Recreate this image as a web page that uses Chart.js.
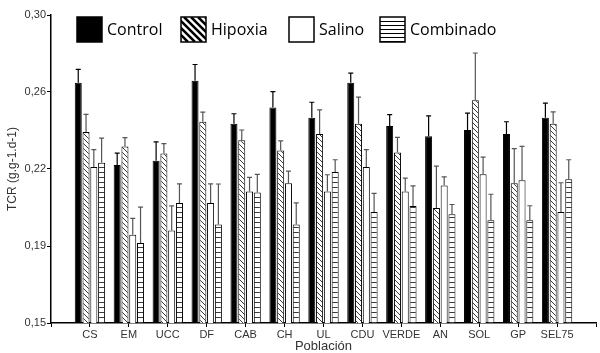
<!DOCTYPE html>
<html>
<head>
<meta charset="utf-8">
<script src="https://cdn.jsdelivr.net/npm/chart.js@4.4.1/dist/chart.umd.min.js"></script>
<style>
  html, body { margin: 0; padding: 0; background: #fff; }
  canvas { display: block; }
</style>
</head>
<body>
<canvas id="chart" width="600" height="353"></canvas>
<script>
const categories = ['CS', 'EM', 'UCC', 'DF', 'CAB', 'CH', 'UL', 'CDU', 'VERDE', 'AN', 'SOL', 'GP', 'SEL75'];
const seriesNames = ['Control', 'Hipoxia', 'Salino', 'Combinado'];

const control      = [0.267, 0.227, 0.229, 0.268, 0.247, 0.255, 0.250, 0.267, 0.246, 0.241, 0.244, 0.242, 0.250];
const controlErr   = [0.0065, 0.0057, 0.0092, 0.0079, 0.0049, 0.0077, 0.0075, 0.0047, 0.0055, 0.0099, 0.0082, 0.0060, 0.0071];
const hipoxia      = [0.243, 0.236, 0.2325, 0.248, 0.239, 0.234, 0.242, 0.247, 0.233, 0.206, 0.2585, 0.218, 0.247];
const hipoxiaErr   = [0.0086, 0.0043, 0.0049, 0.0047, 0.0050, 0.0047, 0.0118, 0.0130, 0.0074, 0.0204, 0.0230, 0.0169, 0.0058];
const salino       = [0.226, 0.193, 0.195, 0.2085, 0.214, 0.218, 0.214, 0.226, 0.214, 0.217, 0.2225, 0.2195, 0.204];
const salinoErr    = [0.0084, 0.0080, 0.0120, 0.0093, 0.0069, 0.0060, 0.0082, 0.0084, 0.0066, 0.0042, 0.0083, 0.0165, 0.0143];
const combinado    = [0.228, 0.189, 0.2085, 0.198, 0.2135, 0.198, 0.2235, 0.204, 0.207, 0.203, 0.200, 0.200, 0.220];
const combinadoErr = [0.0120, 0.0174, 0.0093, 0.0197, 0.0089, 0.0105, 0.0060, 0.0091, 0.0098, 0.0047, 0.0127, 0.0071, 0.0095];

const yTickValues = [0.15, 0.1875, 0.225, 0.2625, 0.30];
const yTickLabels = ['0,15', '0,19', '0,22', '0,26', '0,30'];

// small tiles for the hatched fills
function makePattern(kind, size) {
    const c = document.createElement('canvas');
    c.width = size; c.height = size;
    const g = c.getContext('2d');
    g.fillStyle = '#fff';
    g.fillRect(0, 0, size, size);
    g.strokeStyle = '#3a3a3a';
    g.lineWidth = 1;
    g.beginPath();
    if (kind === 'diag') {
        for (const k of [-size, 0, size]) {
            g.moveTo(k, 0);
            g.lineTo(k + size, size);
        }
    } else {
        g.moveTo(0, size / 2);
        g.lineTo(size, size / 2);
    }
    g.stroke();
    return g.createPattern(c, 'repeat');
}

const fills = ['#000', makePattern('diag', 5), '#fff', makePattern('horiz', 5)];
const values = [control, hipoxia, salino, combinado];
const errors = [controlErr, hipoxiaErr, salinoErr, combinadoErr];
const errColors = ['#000', '#555', '#555', '#555'];

const errorBars = {
    id: 'errorBars',
    afterDatasetsDraw(chart) {
        const ctx = chart.ctx;
        const y = chart.scales.y;
        ctx.save();
        chart.data.datasets.forEach((ds, d) => {
            const meta = chart.getDatasetMeta(d);
            ctx.strokeStyle = errColors[d];
            ctx.lineWidth = 1.2;
            meta.data.forEach((bar, i) => {
                const top = y.getPixelForValue(values[d][i] + errors[d][i]);
                ctx.beginPath();
                ctx.moveTo(bar.x, bar.y);
                ctx.lineTo(bar.x, top);
                ctx.moveTo(bar.x - 2.5, top);
                ctx.lineTo(bar.x + 2.5, top);
                ctx.stroke();
            });
        });
        ctx.restore();
    }
};

// legend drawn inside the plot, top left
const innerLegend = {
    id: 'innerLegend',
    afterDraw(chart) {
        const ctx = chart.ctx;
        const xs = [77, 181, 289, 380];
        const top = 17, s = 25;
        ctx.save();
        ctx.font = '16px "Open Sans"';
        ctx.textBaseline = 'middle';
        seriesNames.forEach((name, i) => {
            const x = xs[i];
            ctx.fillStyle = i === 0 ? '#000' : '#fff';
            ctx.fillRect(x, top, s, s);
            ctx.save();
            ctx.beginPath();
            ctx.rect(x, top, s, s);
            ctx.clip();
            ctx.strokeStyle = '#000';
            if (i === 1) {
                ctx.lineWidth = 2.5;
                ctx.beginPath();
                for (let k = -s; k < s; k += 7) {
                    ctx.moveTo(x + k, top);
                    ctx.lineTo(x + k + s, top + s);
                }
                ctx.stroke();
            } else if (i === 3) {
                ctx.lineWidth = 1;
                ctx.beginPath();
                for (let k = 4; k < s; k += 4) {
                    ctx.moveTo(x, top + k + 0.5);
                    ctx.lineTo(x + s, top + k + 0.5);
                }
                ctx.stroke();
            }
            ctx.restore();
            ctx.lineWidth = 1.5;
            ctx.strokeStyle = '#000';
            ctx.strokeRect(x, top, s, s);
            ctx.fillStyle = '#000';
            ctx.fillText(name, x + s + 5, top + s / 2 + 1);
        });
        ctx.restore();
    }
};

const tickFont = { family: '"Liberation Sans", Arial, sans-serif', size: 11 };

new Chart(document.getElementById('chart'), {
    type: 'bar',
    data: {
        datasets: seriesNames.map((name, d) => ({
            label: name,
            data: values[d].map((v, i) => ({ x: i, y: v })),
            backgroundColor: fills[d],
            borderColor: '#000',
            borderWidth: 1,
            categoryPercentage: 0.8,
            barPercentage: 0.9
        }))
    },
    options: {
        responsive: false,
        animation: false,
        devicePixelRatio: 1,
        layout: { padding: { top: 15, right: 4, left: 0, bottom: 0 } },
        plugins: {
            legend: { display: false },
            tooltip: { enabled: false }
        },
        scales: {
            x: {
                type: 'linear',
                min: -1,
                max: categories.length,
                offset: false,
                afterBuildTicks: s => {
                    s.ticks = [];
                    for (let i = -1; i <= categories.length; i++) s.ticks.push({ value: i });
                },
                ticks: {
                    autoSkip: false,
                    maxRotation: 0,
                    padding: 1,
                    color: '#333',
                    font: tickFont,
                    callback: v => categories[v] ?? ''
                },
                grid: { offset: false, drawOnChartArea: false, tickLength: 4, color: '#000' },
                border: { color: '#000', width: 1.5 },
                title: {
                    display: true,
                    text: 'Población',
                    color: '#333',
                    font: { family: '"Liberation Sans", Arial, sans-serif', size: 13, lineHeight: 1 },
                    padding: { top: 0, bottom: 0 }
                },
                afterFit: s => { s.height = 30; }
            },
            y: {
                min: 0.15,
                max: 0.30,
                afterBuildTicks: s => { s.ticks = yTickValues.map(v => ({ value: v })); },
                ticks: {
                    padding: 1,
                    color: '#333',
                    font: tickFont,
                    callback: (v, i) => yTickLabels[i]
                },
                grid: { drawOnChartArea: false, tickLength: 4, color: '#000' },
                border: { color: '#000', width: 1.5 },
                title: {
                    display: true,
                    text: 'TCR (g.g-1.d-1)',
                    color: '#333',
                    font: { family: '"Liberation Sans", Arial, sans-serif', size: 12 },
                    padding: { top: 5, bottom: 0 }
                },
                afterFit: s => { s.width = 51; }
            }
        }
    },
    plugins: [errorBars, innerLegend]
});
</script>
</body>
</html>
